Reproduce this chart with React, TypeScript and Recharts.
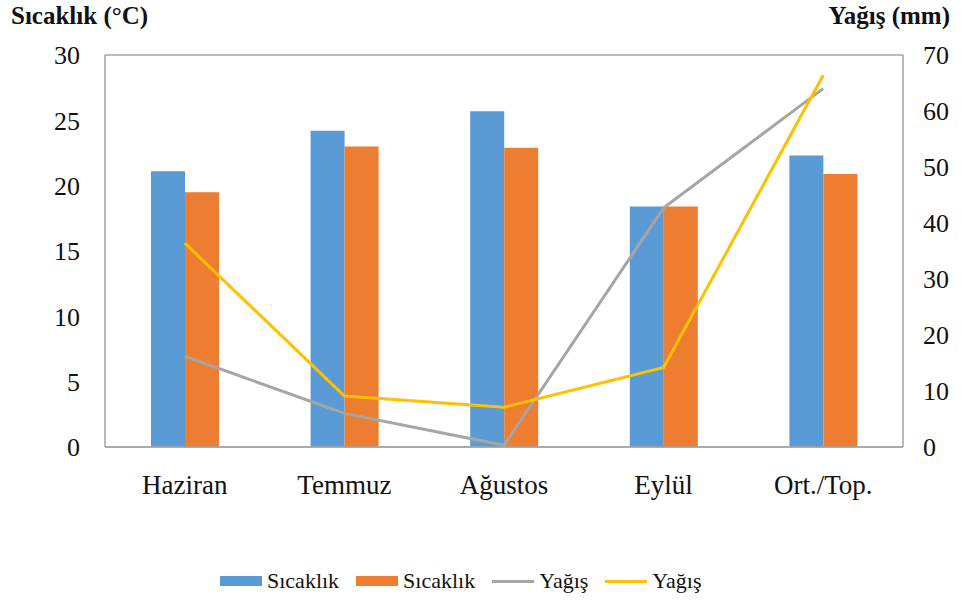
import * as React from "react";
import {
    Bar,
    CartesianGrid,
    ComposedChart,
    Legend,
    Line,
    XAxis,
    YAxis,
} from "recharts";

const months: string[] = ["Haziran", "Temmuz", "Ağustos", "Eylül", "Ort./Top."];
const sicaklik1: number[] = [21.1, 24.2, 25.7, 18.4, 22.3];
const sicaklik2: number[] = [19.5, 23.0, 22.9, 18.4, 20.9];
const yagis1: number[] = [16.2, 6.0, 0.3, 42.7, 64.0];
const yagis2: number[] = [36.4, 9.1, 7.1, 14.2, 66.4];
const leftTicks: number[] = [0, 5, 10, 15, 20, 25, 30];
const rightTicks: number[] = [0, 10, 20, 30, 40, 50, 60, 70];

const BLUE = "#5B9BD5";
const ORANGE = "#ED7D31";
const GRAY = "#A5A5A5";
const YELLOW = "#FFC000";
const AXIS_GRAY = "#A6A6A6";
const FONT = "'Liberation Serif', 'DejaVu Serif', serif";

const data = months.map((m, i) => ({
    name: m,
    s1: sicaklik1[i],
    s2: sicaklik2[i],
    y1: yagis1[i],
    y2: yagis2[i],
}));

const legendItems = [
    { label: "Sıcaklık", color: BLUE, kind: "bar" },
    { label: "Sıcaklık", color: ORANGE, kind: "bar" },
    { label: "Yağış", color: GRAY, kind: "line" },
    { label: "Yağış", color: YELLOW, kind: "line" },
];

// legend drawn like the Excel one: swatch then label, left packed
const CustomLegend = () => (
    <div style={{ display: "flex", alignItems: "center", paddingLeft: 220, height: 40, fontFamily: FONT, fontSize: 22, color: "#111" }}>
        {legendItems.map((it, i) => (
            <div key={`lg-${i}`} style={{ display: "flex", alignItems: "center", marginRight: 17 }}>
                <div style={{
                    width: 42,
                    height: it.kind === "bar" ? 10 : 3,
                    background: it.color,
                    marginRight: 5,
                }} />
                <span style={{ fontFamily: FONT }}>{it.label}</span>
            </div>
        ))}
    </div>
);

export default function App() {
    const tickStyle = { fontFamily: FONT, fontSize: 26, fill: "#111" };
    const xTickStyle = { fontFamily: FONT, fontSize: 27, fill: "#111" };
    const titleStyle: React.CSSProperties = { position: "absolute", top: 2, fontFamily: FONT, fontSize: 25, fontWeight: "bold", color: "#111" };
    return (
        <div style={{ position: "absolute", left: 0, top: 0, width: 961, height: 606, background: "#fff" }}>
            <div style={{ ...titleStyle, left: 11 }}>Sıcaklık (°C)</div>
            <div style={{ ...titleStyle, right: 11 }}>Yağış (mm)</div>
            <ComposedChart
                width={961}
                height={606}
                data={data}
                margin={{ top: 55, right: 0, bottom: 5, left: 0 }}
                barGap={0}
            >
                <CartesianGrid vertical={false} stroke={AXIS_GRAY} strokeWidth={1.5} />
                <XAxis
                    dataKey="name"
                    height={114}
                    tick={xTickStyle}
                    tickLine={false}
                    tickSize={6}
                    tickMargin={22}
                    axisLine={{ stroke: AXIS_GRAY, strokeWidth: 1.5 }}
                    interval={0}
                />
                <YAxis
                    yAxisId="left"
                    orientation="left"
                    width={105}
                    domain={[0, 30]}
                    ticks={leftTicks}
                    tick={tickStyle}
                    tickLine={false}
                    tickSize={6}
                    tickMargin={19}
                    axisLine={{ stroke: AXIS_GRAY, strokeWidth: 1.5 }}
                />
                <YAxis
                    yAxisId="right"
                    orientation="right"
                    width={58}
                    domain={[0, 70]}
                    ticks={rightTicks}
                    tick={{ ...tickStyle, textAnchor: "start" }}
                    tickLine={false}
                    tickSize={6}
                    tickMargin={14}
                    axisLine={{ stroke: AXIS_GRAY, strokeWidth: 1.5 }}
                />
                <Legend verticalAlign="bottom" height={40} content={<CustomLegend />} />
                <Bar yAxisId="left" dataKey="s1" name="Sıcaklık" fill={BLUE} barSize={34} isAnimationActive={false} />
                <Bar yAxisId="left" dataKey="s2" name="Sıcaklık" fill={ORANGE} barSize={34} isAnimationActive={false} />
                <Line yAxisId="right" type="linear" dataKey="y1" name="Yağış" stroke={GRAY} strokeWidth={3} dot={false} isAnimationActive={false} />
                <Line yAxisId="right" type="linear" dataKey="y2" name="Yağış" stroke={YELLOW} strokeWidth={3} dot={false} isAnimationActive={false} />
            </ComposedChart>
        </div>
    );
}
